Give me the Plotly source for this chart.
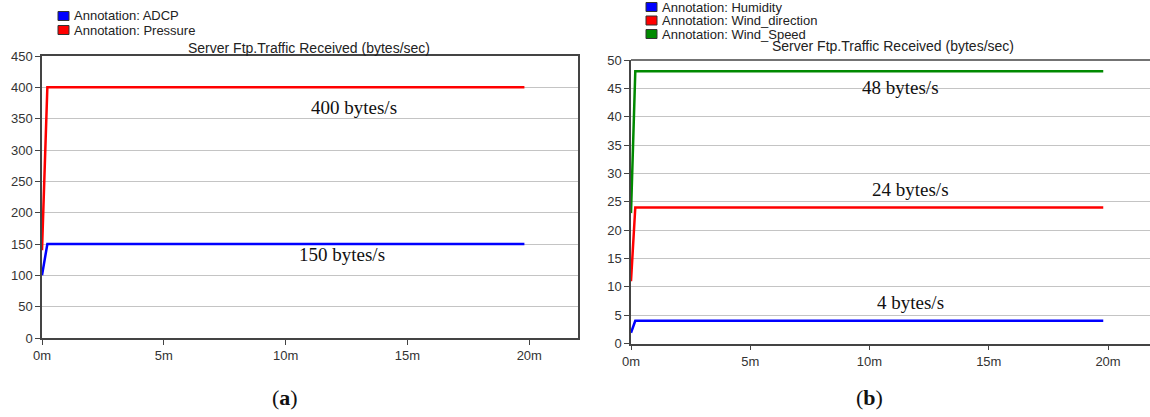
import plotly.graph_objects as go

# ---- data -------------------------------------------------------------
# time in minutes
time_a = [0, 0.22, 19.8]
adcp = [100, 150, 150]
pressure = [140, 400, 400]

time_b = [0, 0.18, 19.8]
humidity = [1.9, 4, 4]
wind_direction = [11, 24, 24]
wind_speed = [23, 48, 48]

series_a = [("Annotation: ADCP", adcp, "#0000ff"),
            ("Annotation: Pressure", pressure, "#ff0000")]
series_b = [("Annotation: Humidity", humidity, "#0000ff"),
            ("Annotation: Wind_direction", wind_direction, "#ff0000"),
            ("Annotation: Wind_Speed", wind_speed, "#008a00")]

x_tick_vals = [0, 5, 10, 15, 20]
x_tick_text = ["0m", "5m", "10m", "15m", "20m"]
y_ticks_a = list(range(0, 451, 50))
y_ticks_b = list(range(0, 51, 5))

title_text = "Server Ftp.Traffic Received (bytes/sec)"

W, H = 1150, 417
fig = go.Figure()

for name, vals, col in series_a:
    fig.add_trace(go.Scatter(x=time_a, y=vals, mode="lines", name=name,
                             line=dict(color=col, width=2.5),
                             xaxis="x", yaxis="y", showlegend=False))
for name, vals, col in series_b:
    fig.add_trace(go.Scatter(x=time_b, y=vals, mode="lines", name=name,
                             line=dict(color=col, width=2.5),
                             xaxis="x2", yaxis="y2", showlegend=False))

sans = "Liberation Sans, Arial, sans-serif"
serif = "Liberation Serif, Times New Roman, serif"
tickfont = dict(family=sans, size=13, color="#333")

common_x = dict(tickmode="array", tickvals=x_tick_vals, ticktext=x_tick_text,
                showgrid=False, zeroline=False, showline=True, linecolor="#444",
                linewidth=1.5, ticks="outside", ticklen=5, tickcolor="#444",
                tickfont=tickfont, automargin=False)
common_y = dict(showgrid=True, gridcolor="#c4c4c4", gridwidth=1.2, zeroline=False,
                showline=True, linecolor="#444", linewidth=1.5, ticks="outside",
                ticklen=5, tickcolor="#444", tickfont=tickfont, automargin=False)

fig.update_layout(
    width=W, height=H,
    margin=dict(l=0, r=0, t=0, b=0, autoexpand=False),
    paper_bgcolor="white", plot_bgcolor="white",
    showlegend=False,
    xaxis=dict(domain=[42 / W, 578 / W], range=[0, 22.0], anchor="y",
               mirror=True, **common_x),
    yaxis=dict(domain=[(H - 338) / H, (H - 56) / H], range=[0, 450], anchor="x",
               tickvals=y_ticks_a, mirror=True, **common_y),
    xaxis2=dict(domain=[631 / W, 1.0], range=[0, 21.76], anchor="y2", **common_x),
    yaxis2=dict(domain=[(H - 343.5) / H, (H - 60) / H], range=[0, 50], anchor="x2",
                tickvals=y_ticks_b, **common_y),
)

# top border of the right panel
fig.add_shape(type="line", xref="x2 domain", yref="y2 domain",
              x0=0, x1=1, y0=1, y1=1, line=dict(color="#444", width=1.5))

annotations = []

# panel titles
for cx, cy in [(309, 48), (893, 46)]:
    annotations.append(dict(text=title_text, x=cx / W, y=1 - cy / H,
                            xref="paper", yref="paper", showarrow=False,
                            xanchor="center", yanchor="middle",
                            font=dict(family=sans, size=14, color="#222")))

# legends: colour swatch + label
def add_legend(series, x0, y_rows):
    for (name, _, col), ry in zip(series, y_rows):
        fig.add_shape(type="rect", xref="paper", yref="paper",
                      x0=x0 / W, x1=(x0 + 11) / W,
                      y0=1 - (ry + 4.5) / H, y1=1 - (ry - 4.5) / H,
                      fillcolor=col, line=dict(color="#333", width=1))
        annotations.append(dict(text=name, x=(x0 + 14) / W, y=1 - ry / H,
                                xref="paper", yref="paper", showarrow=False,
                                xanchor="left", yanchor="middle",
                                font=dict(family=sans, size=13, color="#222")))

add_legend(series_a, 58, [16, 30])
add_legend(series_b, 646, [7, 20.5, 34])

# value labels placed next to each plateau
value_labels = [
    ("x", "y", pressure, 12.8, -20),
    ("x", "y", adcp, 12.3, -10),
    ("x2", "y2", wind_speed, 11.3, -16),
    ("x2", "y2", wind_direction, 11.7, 18),
    ("x2", "y2", humidity, 11.7, 18),
]
for xr, yr, vals, lx, shift in value_labels:
    level = vals[-1]
    annotations.append(dict(text=f"{level} bytes/s", x=lx, y=level, xref=xr, yref=yr,
                            showarrow=False, xanchor="center", yanchor="middle",
                            yshift=shift,
                            font=dict(family=serif, size=19, color="#111")))

# panel captions
for lab, cx in [("a", 285), ("b", 869)]:
    annotations.append(dict(text=f"(<b>{lab}</b>)", x=cx / W, y=1 - 397 / H,
                            xref="paper", yref="paper", showarrow=False,
                            xanchor="center", yanchor="middle",
                            font=dict(family=serif, size=22, color="#111")))

fig.update_layout(annotations=annotations)

fig.write_html("out.html")
